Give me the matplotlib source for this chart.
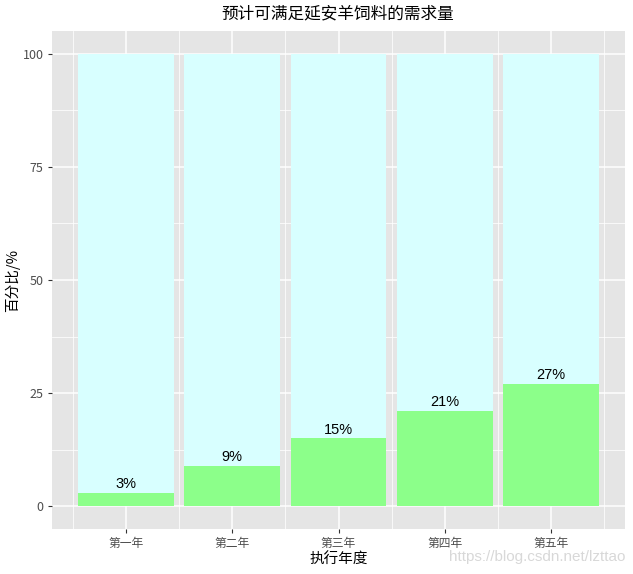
import numpy as np
import matplotlib
matplotlib.use("Agg")
import matplotlib.pyplot as plt

plt.rcParams['font.family'] = ['Noto Sans CJK SC', 'DejaVu Sans']

years = ["第一年", "第二年", "第三年", "第四年", "第五年"]
met = [3, 9, 15, 21, 27]
total = [100, 100, 100, 100, 100]
labels = ["3%", "9%", "15%", "21%", "27%"]

fig = plt.figure(figsize=(6.33, 5.74), dpi=100)
ax = fig.add_axes([52 / 633, 45 / 574, (625 - 52) / 633, (529 - 31) / 574])

x = np.arange(1, len(years) + 1)
rest = [t - m for t, m in zip(total, met)]
ax.bar(x, met, width=0.9, color="#8CFF8A", zorder=3)
ax.bar(x, rest, bottom=met, width=0.9, color="#D8FFFF", zorder=3)
for xi, m, lab in zip(x, met, labels):
    ax.text(xi, m + 0.4, lab, ha="center", va="bottom", fontsize=10.5,
            family=["Liberation Sans", "DejaVu Sans"], color="black", zorder=4)

ax.set_facecolor("#E5E5E5")
ax.set_xlim(0.305, 5.695)
ax.set_ylim(-5, 105)
ax.set_xticks(x)
ax.set_xticklabels(years, fontsize=8.5)
ax.set_xticks(np.arange(0.5, 6, 1), minor=True)
ax.set_yticks([0, 25, 50, 75, 100])
ax.set_yticks([12.5, 37.5, 62.5, 87.5], minor=True)
ax.tick_params(axis="y", labelsize=9)
ax.grid(True, which="major", color="white", linewidth=1.1, zorder=0)
ax.grid(True, which="minor", color="white", linewidth=0.55, zorder=0)
ax.tick_params(which="major", length=3, width=0.8, color="#333333", labelcolor="#4D4D4D", pad=3)
ax.tick_params(which="minor", length=0)
for s in ax.spines.values():
    s.set_visible(False)
ax.set_axisbelow(True)

ax.set_xlabel("执行年度", fontsize=10.5, labelpad=2, fontweight="medium")
ax.set_ylabel("百分比/%", fontsize=10.5, labelpad=2, fontweight="medium")
fig.suptitle("预计可满足延安羊饲料的需求量", fontsize=12, fontweight="medium",
             x=338 / 633, y=1 - 5 / 574, va="top")

fig.text(625 / 633, 1 - 557 / 574, "https://blog.csdn.net/lzttao", ha="right", va="center",
         fontsize=11, color="#D8D8D8", family=["Liberation Sans", "DejaVu Sans"])

fig.savefig("out.png", dpi=100)
